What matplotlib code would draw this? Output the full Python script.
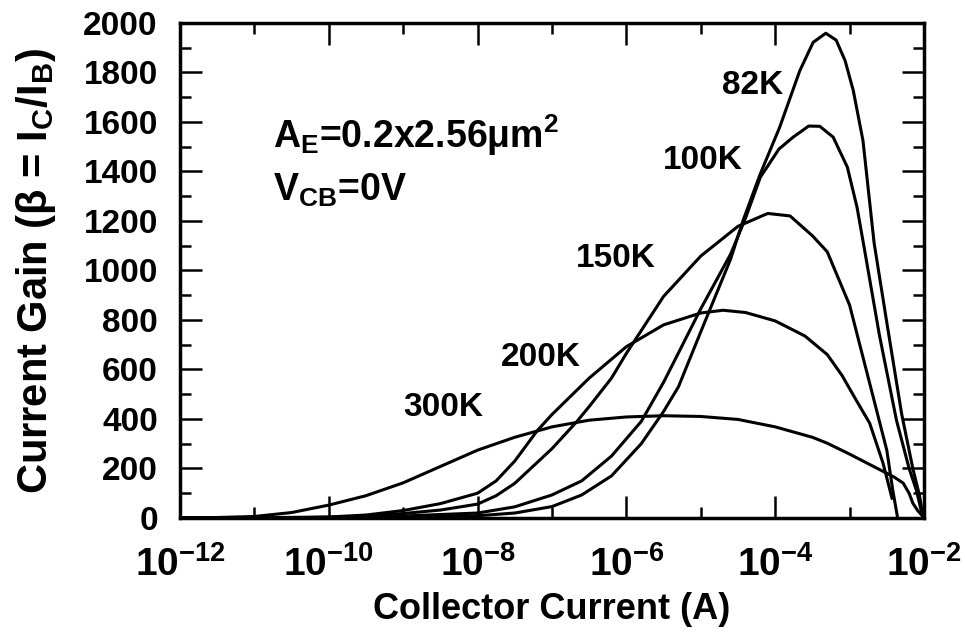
import matplotlib
matplotlib.use('Agg')
import matplotlib.pyplot as plt
import numpy as np
from matplotlib.ticker import NullFormatter

# Current gain vs collector current, SiGe HBT at several temperatures
# x values are log10 of collector current (A), y is beta

log_ic_300k = [-12.0, -11.5, -11.0, -10.5, -10.0, -9.5, -9.0, -8.5, -8.0, -7.5, -7.0,
               -6.5, -6.0, -5.5, -5.0, -4.5, -4.0, -3.5, -3.3, -3.0, -2.6, -2.4,
               -2.28, -2.2, -2.15, -2.08, -2.02, -2.0]
beta_300k = [0, 2, 6, 22, 52, 90, 142, 208, 274, 326, 368,
             395, 408, 413, 410, 398, 368, 326, 302, 258, 196, 165,
             141, 100, 60, 28, 8, 0]

log_ic_200k = [-12.0, -11.0, -10.0, -9.5, -9.0, -8.5, -8.0, -7.75, -7.5, -7.2, -7.0,
               -6.5, -6.0, -5.5, -5.0, -4.7, -4.4, -4.0, -3.6, -3.3, -3.1, -2.9,
               -2.73, -2.55, -2.43]
beta_200k = [0, 1, 4, 12, 30, 58, 100, 150, 230, 352, 418,
             565, 692, 780, 828, 839, 830, 796, 735, 660, 575, 470,
             383, 221, 80]

log_ic_150k = [-12.0, -10.5, -9.5, -9.0, -8.5, -8.0, -7.75, -7.5, -7.0, -6.67, -6.5, -6.2,
               -6.0, -5.5, -5.0, -4.5, -4.1, -3.8, -3.5, -3.3, -3.0, -2.73, -2.5,
               -2.42, -2.36]
beta_150k = [0, 1, 5, 18, 32, 56, 90, 140, 280, 388, 450, 565,
             665, 895, 1058, 1178, 1230, 1220, 1140, 1075, 860, 544, 274,
             113, 10]

log_ic_100k = [-12.0, -10.0, -9.0, -8.0, -7.5, -7.0, -6.6, -6.2, -5.8, -5.5, -5.0,
               -4.6, -4.4, -4.2, -3.95, -3.76, -3.55, -3.4, -3.22, -3.03, -2.9, -2.8,
               -2.6, -2.37, -2.2, -2.1, -2.03, -2.0]
beta_100k = [0, 2, 8, 20, 45, 93, 150, 250, 390, 548, 845,
             1065, 1210, 1376, 1490, 1538, 1583, 1582, 1538, 1417, 1255, 1085,
             740, 395, 200, 110, 20, 0]

log_ic_82k = [-12.0, -10.0, -9.0, -8.0, -7.5, -7.0, -6.6, -6.2, -5.8, -5.5, -5.3,
              -5.0, -4.6, -4.43, -4.2, -3.94, -3.67, -3.49, -3.32, -3.18, -3.06, -2.95,
              -2.82, -2.67, -2.5, -2.3, -2.15, -2.06, -2.02, -2.0]
beta_82k = [0, 1, 3, 9, 20, 46, 93, 170, 300, 430, 530,
            752, 1045, 1203, 1390, 1578, 1806, 1921, 1958, 1930, 1847, 1726,
            1524, 1110, 790, 420, 200, 90, 20, 0]

curve_labels = ['300K', '200K', '150K', '100K', '82K']
label_x = [3.4e-9, 7.1e-8, 7.1e-7, 1.05e-5, 5.0e-5]
label_y = [448, 649, 1048, 1444, 1746]

x_major_exp = [-12, -10, -8, -6, -4, -2]
x_minor_exp = [-11, -9, -7, -5, -3]

plt.rcParams['font.family'] = 'Liberation Sans'
plt.rcParams['font.weight'] = 'bold'
plt.rcParams['mathtext.fontset'] = 'custom'
plt.rcParams['mathtext.rm'] = 'Liberation Sans:bold'
plt.rcParams['mathtext.bf'] = 'Liberation Sans:bold'
plt.rcParams['mathtext.it'] = 'Liberation Sans:bold'
plt.rcParams['mathtext.default'] = 'rm'

fig = plt.figure(figsize=(9.65, 6.34), dpi=100)
ax = fig.add_axes([0.1865, 0.183, 0.771, 0.781])

curves = [(log_ic_300k, beta_300k), (log_ic_200k, beta_200k), (log_ic_150k, beta_150k),
          (log_ic_100k, beta_100k), (log_ic_82k, beta_82k)]
for lx, b in curves:
    ax.plot(10.0 ** np.array(lx), b, color='black', lw=2.2)

# temperature labels next to each curve
for name, tx, ty in zip(curve_labels, label_x, label_y):
    ax.text(tx, ty, name, fontsize=24, fontweight='bold', ha='center', va='center')

ax.text(1.78e-11, 1496, r'A$_E$=0.2x2.56μm$^2$', fontsize=27, fontweight='bold')
ax.text(1.78e-11, 1282, r'V$_{CB}$=0V', fontsize=27, fontweight='bold')

ax.set_xscale('log')
ax.set_xlim(1e-12, 1e-2)
ax.set_ylim(0, 2000)

ax.set_xticks([10.0 ** e for e in x_major_exp])
ax.set_xticklabels([r'$10^{%d}$' % e for e in x_major_exp])
ax.set_xticks([10.0 ** e for e in x_minor_exp], minor=True)
ax.xaxis.set_minor_formatter(NullFormatter())
ax.set_yticks(np.arange(0, 2001, 200))
ax.set_yticks(np.arange(100, 2000, 200), minor=True)

ax.tick_params(which='both', direction='in', top=True, right=True, width=1.8)
ax.tick_params(which='major', length=16)
ax.tick_params(which='minor', length=8)
ax.tick_params(axis='y', which='major', labelsize=24, pad=16)
ax.tick_params(axis='x', which='major', labelsize=28, pad=20)

for s in ax.spines.values():
    s.set_linewidth(2.5)

ax.set_xlabel('Collector Current (A)', fontsize=26, fontweight='bold', labelpad=6)
ax.set_ylabel(r'Current Gain (β = I$_C$/I$_B$)', fontsize=30, fontweight='bold', labelpad=18)

fig.savefig('out.png', dpi=100)
